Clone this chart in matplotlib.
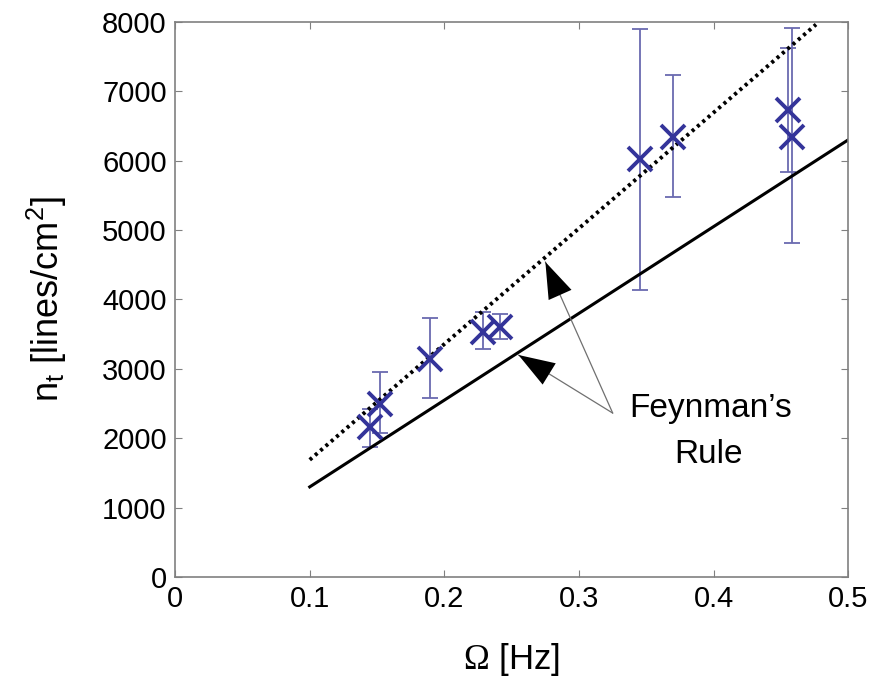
import matplotlib.pyplot as plt
import numpy as np

# measured points
omega = [0.145, 0.152, 0.189, 0.229, 0.2415, 0.345, 0.370, 0.455, 0.458]
n_t = [2160, 2500, 3140, 3530, 3600, 6020, 6340, 6730, 6340]
n_low = [1870, 2075, 2580, 3285, 3430, 4135, 5475, 5836, 4813]
n_high = [2420, 2954, 3732, 3818, 3790, 7896, 7233, 7622, 7911]

# Feynman's rule line and the dotted (scaled) version
rule_x = [0.1, 0.5]
rule_n = [1300, 6300]
fit_x = [0.1, 0.476]
fit_n = [1690, 7960]

plt.rcParams['font.family'] = ['Liberation Sans', 'DejaVu Sans']
plt.rcParams['mathtext.fontset'] = 'custom'
plt.rcParams['mathtext.rm'] = 'Liberation Serif'
plt.rcParams['mathtext.sf'] = 'Liberation Sans'

fig = plt.figure(figsize=(8.71, 6.79), dpi=100)
ax = fig.add_axes([0.201, 0.150, 0.773, 0.818])

n_t = np.array(n_t)
yerr = [n_t - np.array(n_low), np.array(n_high) - n_t]
ax.errorbar(omega, n_t, yerr=yerr, fmt='none', ecolor='#6a6ab0',
            elinewidth=1.3, capsize=6, capthick=1.3, zorder=2)
ax.plot(omega, n_t, 'x', color='#34349a', markersize=17, mew=2.8, zorder=3)

ax.plot(rule_x, rule_n, '-', color='k', lw=2.2)
ax.plot(fit_x, fit_n, ':', color='k', lw=2.8, dashes=(0.8, 1.0))

# arrows from the label
tail = (0.325, 2363)
tips = [(0.275, 4540), (0.255, 3200)]
for tip in tips:
    ax.annotate('', xy=tip, xytext=tail,
                arrowprops=dict(arrowstyle='-', color='#707070', lw=0.9,
                                shrinkA=0, shrinkB=0))
    d = np.array(tip) - np.array(tail)
    start = (tip[0] - d[0] * 0.17, tip[1] - d[1] * 0.17)
    ax.annotate('', xy=tip, xytext=start,
                arrowprops=dict(arrowstyle='-|>,head_length=1.3,head_width=0.45',
                                color='k', lw=0, mutation_scale=20,
                                shrinkA=0, shrinkB=0))

ax.text(0.398, 2305, "Feynman\u2019s", ha='center', va='baseline', fontsize=24)
ax.text(0.396, 1643, "Rule", ha='center', va='baseline', fontsize=24)

ax.set_xlim(0, 0.5)
ax.set_ylim(0, 8000)
ax.set_xticks([0, 0.1, 0.2, 0.3, 0.4, 0.5])
ax.set_xticklabels(['0', '0.1', '0.2', '0.3', '0.4', '0.5'])
ax.set_yticks(np.arange(0, 8001, 1000))
ax.tick_params(direction='in', top=True, right=True, length=5,
               labelsize=21, color='#808080', pad=6)
for s in ax.spines.values():
    s.set_color('#808080')
    s.set_linewidth(1.2)

ax.set_xlabel(r'$\Omega$ [Hz]', fontsize=25, labelpad=20)
ax.set_ylabel(r'n$_\mathsf{t}$ [lines/cm$^\mathsf{2}$]', fontsize=26, labelpad=24)

fig.savefig('out.png', dpi=100)
